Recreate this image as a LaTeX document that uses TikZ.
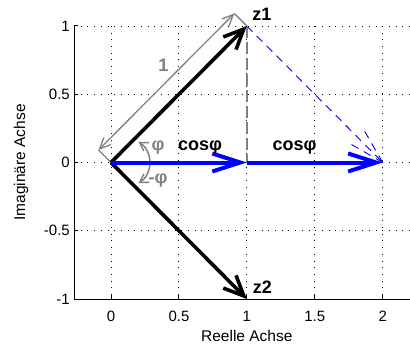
\documentclass[tikz,border=0pt]{standalone}
\usepackage{fontspec}
\setmainfont{Liberation Sans}
\usetikzlibrary{arrows.meta}
\definecolor{mgray}{RGB}{128,128,128}
\definecolor{mblue}{RGB}{0,0,255}
\begin{document}
\begin{tikzpicture}[x=1pt,y=-1pt,
  gridline/.style={black, line width=0.9pt, dash pattern=on 0.9pt off 5.8pt},
  axisline/.style={black, line width=1pt},
  ticklabel/.style={font=\fontsize{15}{15}\selectfont, inner sep=0pt},
  axlabel/.style={font=\fontsize{15.5}{15.5}\selectfont, inner sep=0pt},
  vecblack/.style={black, line width=3.6pt, -{Straight Barb[length=20pt,width=18pt]}},
  vecblue/.style={mblue, line width=4pt, -{Straight Barb[length=28pt,width=18pt]}},
  bluedash/.style={mblue, line width=0.9pt, dash pattern=on 8pt off 6pt},
  graydash/.style={mgray, line width=1.5pt, dash pattern=on 12pt off 4pt},
  dimline/.style={mgray, line width=1.3pt},
  dimarrow/.style={dimline, {Straight Barb[length=11pt,width=10pt]}-{Straight Barb[length=11pt,width=10pt]}},
  grayarc/.style={mgray, line width=1.5pt, -{Straight Barb[length=8pt,width=10pt]}},
  lbl/.style={font=\bfseries\fontsize{18}{18}\selectfont, inner sep=0pt},
]
\path[use as bounding box] (0,0) rectangle (410,345);

% grid
\foreach \gx in {111,178.93,246.85,314.78,382.7}
  \draw[gridline] (\gx,26) -- (\gx,299);
\foreach \gy in {26,94.25,162.5,230.75,299}
  \draw[gridline] (74,\gy) -- (410,\gy);

% axes
\draw[axisline] (74,26) -- (74,299) -- (410,299);
\foreach \gy in {26,94.25,162.5,230.75,299}
  \draw[axisline] (74,\gy) -- (78,\gy);
\foreach \gx in {111,178.93,246.85,314.78,382.7}
  \draw[axisline] (\gx,299) -- (\gx,295);

% tick labels
\node[ticklabel, anchor=east] (ty1) at (70,26) {1};
\node[ticklabel, anchor=east] (ty2) at (70,94.25) {0.5};
\node[ticklabel, anchor=east] (ty3) at (70,162.5) {0};
\node[ticklabel, anchor=east] (ty4) at (70,230.75) {-0.5};
\node[ticklabel, anchor=east] (ty5) at (70,299) {-1};
\node[ticklabel, anchor=base] (tx1) at (111,321) {0};
\node[ticklabel, anchor=base] (tx2) at (178.93,321) {0.5};
\node[ticklabel, anchor=base] (tx3) at (246.85,321) {1};
\node[ticklabel, anchor=base] (tx4) at (314.78,321) {1.5};
\node[ticklabel, anchor=base] (tx5) at (382.7,321) {2};

% axis labels
\node[axlabel, anchor=base] (xl) at (246.85,341.5) {Reelle Achse};
\node[axlabel, anchor=base, rotate=90] (yl) at (25,162.5) {Imaginäre Achse};

% points
\coordinate (O) at (111,162.5);
\coordinate (Z1) at (246.85,26);
\coordinate (Z2) at (246.85,299);
\coordinate (C1) at (246.85,162.5);
\coordinate (C2) at (382.7,162.5);
\coordinate (A) at (98.5,150);
\coordinate (B) at (234.35,13.5);
\coordinate (P) at (125.6,162.5);

% blue dashed arrow z1 -> 2
\draw[bluedash] (Z1) -- (C2);
\draw[bluedash] (C2) -- ++(-150:42);
\draw[bluedash] (C2) -- ++(-120:42);

% gray dashed vertical
\draw[graydash] (Z1) -- (C1);

% dimension line
\draw[dimline] (O) -- (A);
\draw[dimline] (Z1) -- (B);
\draw[dimarrow] (A) -- (B);

% angle arcs
\draw[grayarc] (P) ++(24.4,0) arc[start angle=0, end angle=-58, radius=24.4];
\draw[grayarc] (P) ++(24.4,0) arc[start angle=0, end angle=58, radius=24.4];

% vectors
\draw[vecblack] (O) -- (Z1);
\draw[vecblack] (O) -- (Z2);
\draw[vecblue] (O) -- (C1);
\draw[vecblue] (C1) -- (C2);

% labels
\node[lbl, anchor=base] (lz1) at (262,20.5) {z1};
\node[lbl, anchor=base] (lz2) at (262.5,293) {z2};
\node[lbl, anchor=base] (lc1) at (200,150) {cosφ};
\node[lbl, anchor=base] (lc2) at (294.5,150) {cosφ};
\node[lbl, mgray, anchor=base] (lone) at (163.5,72) {1};
\node[lbl, mgray, anchor=base] (lphi) at (158,150) {φ};
\node[lbl, mgray, anchor=base] (lmphi) at (158,183) {-φ};
\end{tikzpicture}
\end{document}
